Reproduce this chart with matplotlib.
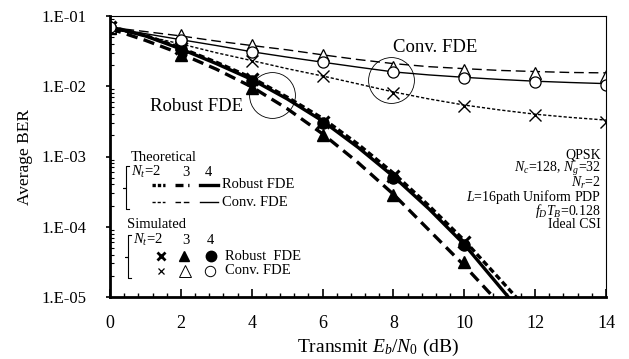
import matplotlib
matplotlib.use("Agg")
import matplotlib.pyplot as plt
from matplotlib.lines import Line2D

plt.rcParams['font.family'] = ['Liberation Serif', 'DejaVu Serif']
plt.rcParams['mathtext.fontset'] = 'custom'
plt.rcParams['mathtext.rm'] = 'Liberation Serif'
plt.rcParams['mathtext.it'] = 'Liberation Serif:italic'

# theoretical curves (read every 1 dB)
snr_th = [0, 1, 2, 3, 4, 5, 6, 7, 8, 9, 10, 11, 12, 13, 14]
rob_th_2 = [.071, .053, .035, .022, .0132, .0070, .0035, .0015, .00058, .00020, 6.4e-5, 1.8e-5, 5.0e-6, 1.2e-6, 2.5e-7]
rob_th_3 = [.066, .045, .029, .0175, .0098, .0048, .0021, .00082, .00029, 9.0e-5, 2.8e-5, 8.0e-6, 2.0e-6, 5e-7, 1e-7]
rob_th_4 = [.070, .052, .034, .021, .0125, .0066, .0032, .00135, .00052, .00018, 5.6e-5, 1.4e-5, 3.5e-6, 8e-7, 2e-7]
conv_th_2 = [.066, .052, .040, .030, .0232, .0178, .0140, .0108, .0083, .0066, .0054, .0046, .0040, .0036, .0033]
conv_th_3 = [.069, .060, .052, .044, .038, .033, .028, .024, .021, .019, .0178, .0168, .0162, .0157, .0155]
conv_th_4 = [.068, .056, .046, .038, .031, .026, .022, .0187, .016, .0145, .0134, .0125, .0118, .0113, .0109]

# simulated points
snr_rob = [0, 2, 4, 6, 8, 10]
rob_sim_2 = [.070, .035, .0125, .0031, .00052, 6.0e-5]
rob_sim_3 = [.068, .028, .0093, .0020, .00028, 3.1e-5]
rob_sim_4 = [.070, .034, .0120, .0030, .00050, 5.5e-5]
snr_conv = [0, 2, 4, 6, 8, 10, 12, 14]
conv_sim_2 = [.068, .040, .023, .0139, .0079, .0052, .0039, .0031]
conv_sim_3 = [.070, .053, .039, .028, .0187, .0170, .0154, .0139]
conv_sim_4 = [.070, .045, .031, .022, .0158, .0129, .0115, .0103]

x_ticks = [0, 2, 4, 6, 8, 10, 12, 14]
y_ticks = [1e-5, 1e-4, 1e-3, 1e-2, 1e-1]
y_labels = ['1.E-05', '1.E-04', '1.E-03', '1.E-02', '1.E-01']

W, H = 629, 359
fig = plt.figure(figsize=(W / 100, H / 100), dpi=100)
ax = fig.add_axes([110 / W, 1 - 297 / H, 496 / W, 281 / H])


def P(x, y):
    return (x / W, 1 - y / H)


bold = 2.4
thin = 1.0
ax.plot(snr_th, rob_th_2, color='k', lw=bold, ls=(0, (1.8, 1.0)))
ax.plot(snr_th, rob_th_3, color='k', lw=bold, ls=(0, (3.4, 1.9)))
ax.plot(snr_th, rob_th_4, color='k', lw=bold, ls='-')
ax.plot(snr_th, conv_th_2, color='k', lw=thin, ls=(0, (2.3, 1.4)))
ax.plot(snr_th, conv_th_3, color='k', lw=thin, ls=(0, (7, 3.5)))
ax.plot(snr_th, conv_th_4, color='k', lw=thin, ls='-')

ax.plot(snr_rob, rob_sim_2, 'x', color='k', ms=8, mew=2.2, ls='none')
ax.plot(snr_rob, rob_sim_3, '^', color='k', ms=8, ls='none')
ax.plot(snr_rob, rob_sim_4, 'o', color='k', ms=8, ls='none')
ax.plot(snr_conv, conv_sim_2, 'x', color='k', ms=8, mew=1.0, ls='none')
ax.plot(snr_conv, conv_sim_3, '^', mfc='white', mec='k', ms=9, mew=0.9, ls='none')
ax.plot(snr_conv, conv_sim_4, 'o', mfc='white', mec='k', ms=8, mew=0.9, ls='none')

ax.set_yscale('log')
ax.set_xlim(0, 14)
ax.set_ylim(1e-5, 1e-1)
ax.set_xticks(x_ticks)
ax.set_xticks([i * 0.4 for i in range(36)], minor=True)
ax.set_yticks(y_ticks)
ax.set_yticklabels(y_labels)
ax.tick_params(axis='x', which='major', direction='in', length=6, width=1.2, pad=13, labelsize=13)
ax.tick_params(axis='x', which='minor', direction='in', length=3, width=1.0)
ax.tick_params(axis='y', which='major', direction='out', length=3, width=1.2, pad=14, labelsize=12)
ax.tick_params(axis='y', which='minor', direction='in', length=3, width=0.8)
for s in ['left', 'bottom']:
    ax.spines[s].set_linewidth(2.0)
for s in ['top', 'right']:
    ax.spines[s].set_linewidth(0.8)

ax.set_xlabel(r'Transmit $E_b$/$N_0$ (dB)', fontsize=14)
ax.xaxis.set_label_coords((378 - 110) / 496, -(337 - 297) / 281)
ax.set_ylabel('Average BER', fontsize=12.5, labelpad=6)

# annotations
ax.plot([4.58], [10 ** -2.13], 'o', ms=33, mfc='none', mec='k', mew=0.6)
ax.plot([7.94], [10 ** -1.91], 'o', ms=33, mfc='none', mec='k', mew=0.6)
fig.text(*P(150, 107), 'Robust FDE', fontsize=13.5, va='center', ha='left',
         bbox=dict(fc='white', ec='none', pad=0.5))
fig.text(*P(393, 47), 'Conv. FDE', fontsize=13.5, va='center', ha='left')

# parameter block
params = ['QPSK', r'$N_c$=128, $N_g$=32', r'$N_r$=2', r'$L$=16path Uniform PDP',
          r'$f_DT_B$=0.128', 'Ideal CSI']
for i, t in enumerate(params):
    fig.text(*P(601, 155 + i * 14), t, fontsize=10, ha='right', va='center')


def bracket(x, y0, y1):
    ym = (y0 + y1) / 2
    xs = [x + 3, x, x, x - 3, x, x, x + 3]
    ys = [y0, y0, ym, ym, ym, y1, y1]
    fig.add_artist(Line2D([P(a, b)[0] for a, b in zip(xs, ys)],
                          [P(a, b)[1] for a, b in zip(xs, ys)], color='k', lw=0.8))


# theoretical legend
fig.text(*P(131, 157), 'Theoretical', fontsize=10.5, va='center')
fig.text(*P(131, 172), r'$N_t$=2', fontsize=10.5, va='center')
fig.text(*P(182, 172), '3', fontsize=10.5, va='center')
fig.text(*P(205, 172), '4', fontsize=10.5, va='center')
bracket(126, 166, 209)
leg_styles = [((0, (1.0, 0.6)), (0, (2.4, 1.4)), '-'), ((0, (2.3, 1.4)), (0, (4, 2)), '-')]
for row, (yy, lw, name) in enumerate([(185, bold, 'Robust FDE'), (202, thin, 'Conv. FDE')]):
    for (xa, xb), st in zip([(152, 165), (175, 189), (200, 218)], leg_styles[row]):
        fig.add_artist(Line2D([P(xa, yy)[0], P(xb, yy)[0]], [P(xa, yy)[1]] * 2,
                              color='k', lw=lw, ls=st))
    fig.text(*P(222, yy), name, fontsize=10.5, va='center')

# simulated legend
fig.text(*P(127, 225), 'Simulated', fontsize=10.5, va='center')
fig.text(*P(133, 240), r'$N_t$=2', fontsize=10.5, va='center')
fig.text(*P(182, 240), '3', fontsize=10.5, va='center')
fig.text(*P(207, 240), '4', fontsize=10.5, va='center')
bracket(128, 235, 278)
fig.add_artist(Line2D([P(161, 256)[0]], [P(161, 256)[1]], marker='x', color='k', ms=6, mew=2.0))
fig.add_artist(Line2D([P(184, 256)[0]], [P(184, 256)[1]], marker='^', color='k', ms=7))
fig.add_artist(Line2D([P(211, 256)[0]], [P(211, 256)[1]], marker='o', color='k', ms=7.5))
fig.add_artist(Line2D([P(161, 271)[0]], [P(161, 271)[1]], marker='x', color='k', ms=5, mew=0.9))
fig.add_artist(Line2D([P(185, 271)[0]], [P(185, 271)[1]], marker='^', mfc='white', mec='k', ms=8, mew=0.7))
fig.add_artist(Line2D([P(210, 271)[0]], [P(210, 271)[1]], marker='o', mfc='white', mec='k', ms=7.5, mew=0.7))
fig.text(*P(225, 256), 'Robust  FDE', fontsize=10.5, va='center')
fig.text(*P(225, 271), 'Conv. FDE', fontsize=10.5, va='center')

fig.savefig('out.png', dpi=100)
